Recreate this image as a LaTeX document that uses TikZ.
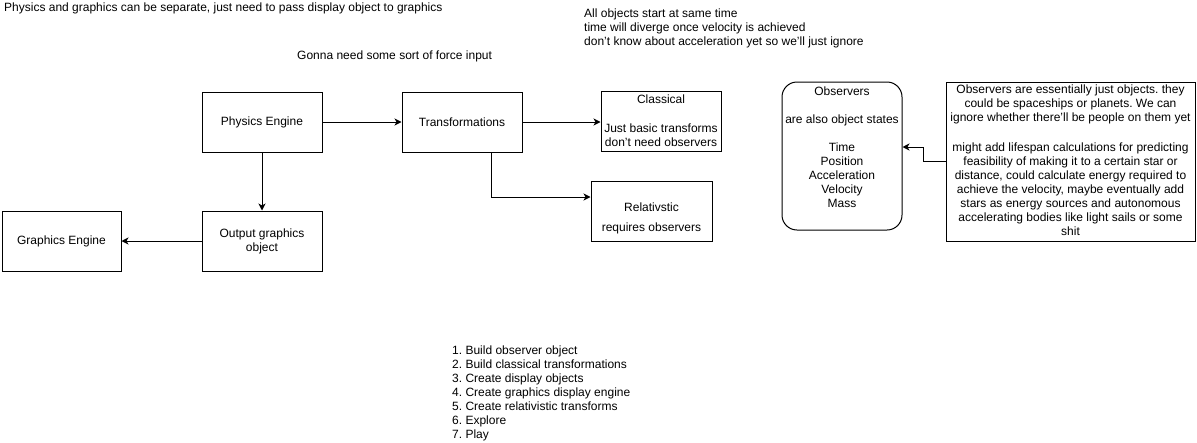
\documentclass[tikz,border=0pt]{standalone}
\usepackage{fontspec}
\setmainfont{Liberation Sans}
\usetikzlibrary{arrows.meta,calc}
\begin{document}
\frenchspacing
\begin{tikzpicture}[x=1pt,y=-1pt,
  every node/.style={font=\fontsize{12pt}{14pt}\selectfont\frenchspacing, inner sep=0pt},
  box/.style={draw, line width=1pt, rectangle, minimum width=120pt, minimum height=60pt, align=center},
  txt/.style={align=center},
  ltxt/.style={align=left, anchor=north west},
  arr/.style={draw, line width=1pt, -{Stealth[length=7pt,width=7pt,inset=2pt]}}
]
\useasboundingbox[fill=white] (0,0) rectangle (1197,442);

% main boxes
\node[box] (phys) at (262,122) {Physics Engine};
\node[box] (trans) at (462,122) {Transformations};
\node[box] (out) at (262,241) {Output graphics\\object};
\node[box, minimum width=119pt] (gfx) at (61.5,241) {Graphics Engine};
\node[box] (cls) at (661,121) {Classical\\[15pt]Just basic transforms\\don't need observers};
\node[box, minimum width=121pt] (rel) at (651.5,211) {};
\node[txt] (reltext) at (651.5,218) {Relativstic\\[6pt]requires observers};

% observers
\node[draw, line width=1pt, rounded corners=15pt, minimum width=120pt, minimum height=148pt] (obs) at (842,156) {};
\node[txt] (obstext) at (842,147) {Observers\\[14pt]are also object states\\[14pt]Time\\Position\\Acceleration\\Velocity\\Mass};

% note
\node[draw, line width=1pt, minimum width=249pt, minimum height=159pt] (note) at (1070.5,161.5) {};
\node[txt] (notetext) at (1070.5,160.5) {Observers are essentially just objects. they\\could be spaceships or planets. We can\\ignore whether there'll be people on them yet\\[16pt]might add lifespan calculations for predicting\\feasibility of making it to a certain star or\\distance, could calculate energy required to\\achieve the velocity, maybe eventually add\\stars as energy sources and autonomous\\accelerating bodies like light sails or some\\shit};

% free texts
\node[ltxt] (t1) at (4,3) {Physics and graphics can be separate, just need to pass display object to graphics};
\node[ltxt] (t2) at (297,51) {Gonna need some sort of force input};
\node[ltxt] (t3) at (584,9) {All objects start at same time\\time will diverge once velocity is achieved\\don't know about acceleration yet so we'll just ignore};
\node[ltxt] (t4) at (452,346) {1. Build observer object\\2. Build classical transformations\\3. Create display objects\\4. Create graphics display engine\\5. Create relativistic transforms\\6. Explore\\7. Play};

% connectors
\draw[arr] (phys.east) -- (trans.west);
\draw[arr] (phys.south) -- (out.north);
\draw[arr] (out.west) -- (gfx.east);
\draw[arr] (trans.east) -- (trans.east -| cls.west);
\coordinate (tsplit) at ($(trans.south)+(29,0)$);
\coordinate (relin) at ($(rel.west)+(0,-14)$);
\draw[arr] (tsplit) |- (relin);
\coordinate (obsin) at ($(obs.east)+(0,-9)$);
\draw[arr] (note.west) -- ++(-22,0) |- (obsin);
\end{tikzpicture}
\end{document}
